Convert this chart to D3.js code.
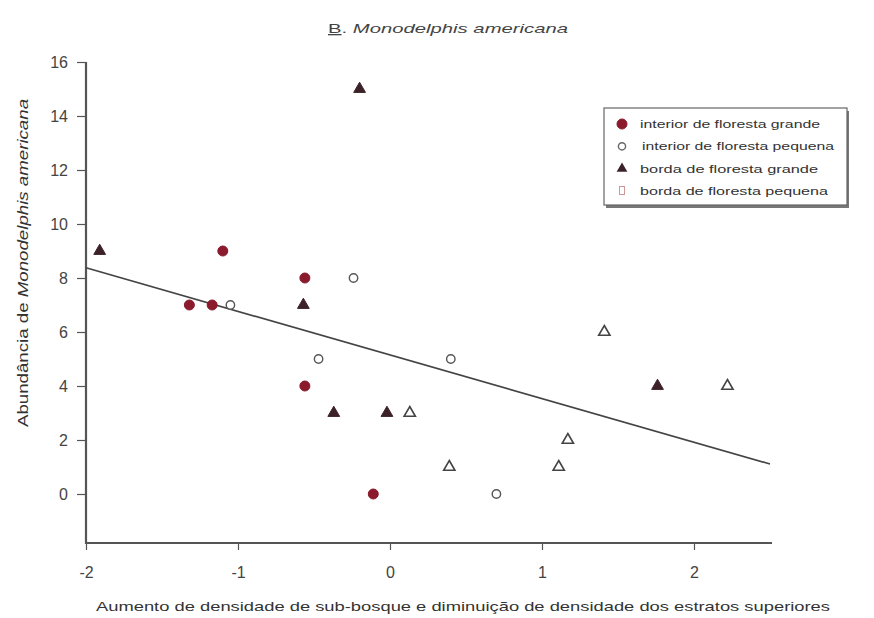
<!DOCTYPE html>
<html><head><meta charset="utf-8">
<script src="https://cdn.jsdelivr.net/npm/d3@7"></script>
<style>
body{margin:0;background:#fff;}
text{font-family:"Liberation Sans",Arial,sans-serif;fill:#333;}
</style></head>
<body>
<svg id="c" width="874" height="618"></svg>
<script>
// Data
const xTicks = [-2, -1, 0, 1, 2];
const yTicks = [0, 2, 4, 6, 8, 10, 12, 14, 16];
const seriesNames = ["interior de floresta grande", " interior de floresta pequena", "borda de floresta grande", "borda de floresta pequena"];
const igX = [-1.10, -1.32, -1.17, -0.56, -0.56, -0.11];
const igY = [9, 7, 7, 8, 4, 0];
const ipX = [-1.05, -0.24, -0.47, 0.40, 0.70];
const ipY = [7, 8, 5, 5, 0];
const bgX = [-1.91, -0.20, -0.57, -0.37, -0.02, 1.76];
const bgY = [9, 15, 7, 3, 3, 4];
const bpX = [0.13, 0.39, 1.17, 1.11, 1.41, 2.22];
const bpY = [3, 1, 2, 1, 6, 4];
const fitX = [-2, 2.5];
const fitY = [8.38, 1.11];

const svg = d3.select("#c");
const x = d3.scaleLinear().domain([-2, 2.5]).range([86, 770]);
const y = d3.scaleLinear().domain([-2, 16]).range([548, 62]);
const axisCol = "#555";

// title
const t = svg.append("text").attr("x", 328).attr("y", 33).style("font-size", "13px").style("fill","#444")
  .attr("textLength", 240).attr("lengthAdjust", "spacingAndGlyphs");
t.append("tspan").text("B").style("text-decoration", "underline");
t.append("tspan").text(". ");
t.append("tspan").text("Monodelphis americana").style("font-style", "italic");

// axes
const gx = svg.append("g").attr("transform", "translate(0,543)")
  .call(d3.axisBottom(x).tickValues(xTicks).tickFormat(d => String(d)).tickSize(7).tickSizeOuter(0));
const gy = svg.append("g").attr("transform", "translate(86,0)")
  .call(d3.axisLeft(y).tickValues(yTicks).tickFormat(d => String(d)).tickSize(9).tickSizeOuter(0));
[gx, gy].forEach(g => {
  g.select(".domain").remove();
  g.selectAll(".tick line").attr("stroke", axisCol).attr("stroke-width", 1.2);
  g.selectAll(".tick text").style("font-size", "16px").style("fill", "#444").style("font-family", "Liberation Sans, Arial, sans-serif");
});
gx.selectAll(".tick text").attr("y", 0).attr("dy", 0).attr("transform", "translate(0,35)");
gy.selectAll(".tick text").attr("x", -18);
svg.append("line").attr("x1", 86).attr("x2", 86).attr("y1", 62).attr("y2", 544).attr("stroke", axisCol).attr("stroke-width", 2.2);
svg.append("line").attr("x1", 85).attr("x2", 772).attr("y1", 543).attr("y2", 543).attr("stroke", axisCol).attr("stroke-width", 2.2);

// axis labels
const yl = svg.append("text").attr("transform", "translate(28,263) rotate(-90)").attr("text-anchor", "middle").style("font-size", "14px")
  .attr("textLength", 328).attr("lengthAdjust", "spacingAndGlyphs");
yl.append("tspan").text("Abundância de ");
yl.append("tspan").text("Monodelphis americana").style("font-style", "italic");
svg.append("text").attr("x", 96).attr("y", 611).style("font-size", "13.5px")
  .attr("textLength", 734).attr("lengthAdjust", "spacingAndGlyphs")
  .text("Aumento de densidade de sub-bosque e diminuição de densidade dos estratos superiores");

// regression line
svg.append("line").attr("x1", x(fitX[0])).attr("y1", y(fitY[0])).attr("x2", x(fitX[1])).attr("y2", y(fitY[1]))
  .attr("stroke", "#444").attr("stroke-width", 1.7);

const red = "#8a1a2c", dark = "#3c2228";
const tri = d3.symbol().type(d3.symbolTriangle);
function circles(xs, ys, filled) {
  svg.append("g").selectAll("circle").data(xs.map((v, i) => [v, ys[i]])).join("circle")
    .attr("cx", d => x(d[0])).attr("cy", d => y(d[1])).attr("r", filled ? 5 : 4.2)
    .attr("fill", filled ? red : "#fff").attr("stroke", filled ? red : "#555").attr("stroke-width", filled ? 1 : 1.4);
}
function triangles(xs, ys, filled) {
  svg.append("g").selectAll("path").data(xs.map((v, i) => [v, ys[i]])).join("path")
    .attr("d", tri.size(filled ? 60 : 55)).attr("transform", d => `translate(${x(d[0])},${y(d[1])})`)
    .attr("fill", filled ? dark : "#fff").attr("stroke", filled ? dark : "#444").attr("stroke-width", filled ? 1 : 1.6);
}
circles(igX, igY, true);
circles(ipX, ipY, false);
triangles(bgX, bgY, true);
triangles(bpX, bpY, false);

// legend
const lg = svg.append("g");
lg.append("rect").attr("x", 606).attr("y", 111).attr("width", 243).attr("height", 97).attr("fill", "#777");
lg.append("rect").attr("x", 604).attr("y", 108).attr("width", 243).attr("height", 97).attr("fill", "#fff").attr("stroke", "#666").attr("stroke-width", 1.2);
const ly = d3.scaleLinear().domain([0, 3]).range([124, 191]);
const legW = [180, 195, 178, 188];
seriesNames.forEach((name, i) => {
  const cy = ly(i), cx = 622;
  if (i === 0) lg.append("circle").attr("cx", cx).attr("cy", cy).attr("r", 5).attr("fill", red).attr("stroke", red);
  if (i === 1) lg.append("circle").attr("cx", cx).attr("cy", cy).attr("r", 3.6).attr("fill", "#fff").attr("stroke", "#666").attr("stroke-width", 1.4);
  if (i === 2) lg.append("path").attr("d", tri.size(50)).attr("transform", `translate(${cx},${cy})`).attr("fill", dark);
  if (i === 3) lg.append("rect").attr("x", cx - 2.5).attr("y", cy - 4.5).attr("width", 5).attr("height", 8).attr("fill", "none").attr("stroke", "#c99").attr("stroke-width", 1);
  lg.append("text").attr("x", i === 1 ? 642 : 640).attr("y", cy + 4).style("font-size", "11.5px").style("fill", "#333")
    .attr("xml:space", "preserve").attr("textLength", legW[i] - (i === 1 ? 3 : 0)).attr("lengthAdjust", "spacingAndGlyphs").text(name.trim());
});
</script>
</body></html>
